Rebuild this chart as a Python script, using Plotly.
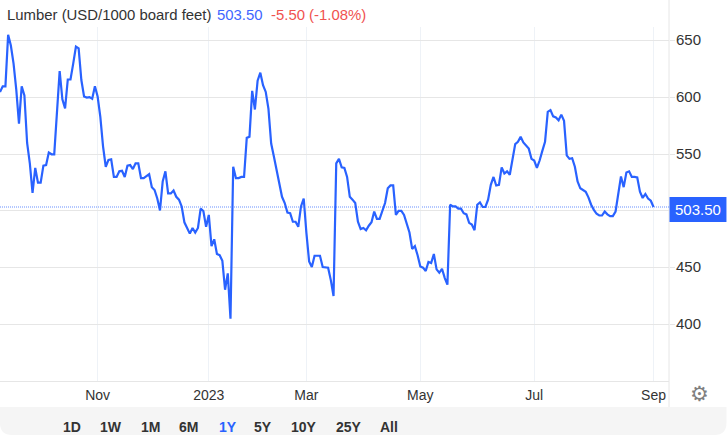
import plotly.graph_objects as go

values = [
    605, 610, 610, 655.5, 646, 630, 607, 577, 610, 602,
    560, 542, 516, 538, 525, 525, 540, 540.5, 551.5, 550,
    550, 592, 623.5, 598.5, 590.5, 616, 616, 630, 645, 643.5,
    615.5, 601, 600, 600.5, 599, 610, 601, 583, 557, 539,
    545, 545.5, 530, 530, 535, 535.5, 530, 540, 540.5, 537,
    542, 542, 529, 529, 530.5, 532.5, 521, 518.5, 511, 500.5,
    526, 535, 515.5, 515.5, 518, 512.5, 510, 504,
    490, 485, 480, 485, 481, 485, 502, 500, 486, 496.5,
    469, 475, 462, 461, 456, 430.5, 445, 405, 539, 529,
    529, 530, 530, 564.5, 565.5, 606, 589.5, 615, 622, 611,
    605, 590, 559.5, 548, 536, 521.5, 512.5, 507, 498.5, 498,
    490.5, 490.5, 486, 504, 511, 480.5, 455.5, 450.5, 460.5, 460.5,
    460.5, 450.5, 450.5, 450, 439, 425, 542, 546, 538.5, 538,
    530, 512.5, 510, 507, 490.5, 484, 485, 483, 487, 490,
    499.5, 493, 493, 499.5, 507, 520, 522.5, 522.5, 496.5, 500,
    500, 496.5, 489, 481, 466.5, 469, 461, 451,
    450, 447, 455, 454, 462, 448.5, 445.5, 449, 441, 435,
    505.5, 504, 504, 502, 502, 498, 497, 489.5, 488, 483,
    505.5, 507.5, 503.5, 503.5, 510, 523, 530, 522.5, 523, 538.5,
    533, 535, 532, 545, 559, 561, 565.5, 560.5, 558, 555,
    546, 544.5, 538, 544.5, 553, 561, 587.5, 589, 583.5, 582.5,
    580, 585, 579.5, 549, 546, 546.5, 539, 526, 520, 518.5,
    517, 512, 505.5, 501, 497.5, 496, 496, 499.5, 497, 495.5,
    495.5, 499.5, 516, 530.5, 521, 534, 535, 530, 530, 529.5,
    517, 511.5, 515, 511, 509, 503.5,
]
sessions = list(range(len(values)))
month_sessions = [36, 77, 113, 155, 197, 241]
month_labels = ["Nov", "2023", "Mar", "May", "Jul", "Sep"]
price_ticks = [400, 450, 500, 550, 600, 650]
price_labels = ["400", "450", "", "550", "600", "650"]
last_price = 503.50
range_buttons = ["1D", "1W", "1M", "6M", "1Y", "5Y", "10Y", "25Y", "All"]
button_centres = [72, 111, 151, 189, 228, 263, 304, 349, 389]

W, H = 727, 435
L, R, T, B = 0, 669.5, 27, 381
BLUE = "#2962ff"
FONT = "Liberation Sans"
DARK = "#333333"
GRID = "#e6e6e6"


def px(x):
    return (x - L) / (R - L)


def py(y):
    return (B - y) / (B - T)


def label(x, y, text, color=DARK, size=14, anchor="left", family=FONT):
    return dict(x=px(x), y=py(y), xref="paper", yref="paper", text=text, showarrow=False,
                xanchor=anchor, yanchor="middle", align=anchor,
                font=dict(family=family, size=size, color=color))


annotations = [
    label(5, 15, "Lumber (USD/1000 board feet)", DARK, 14.9),
    label(215, 15, "503.50", "#3f66ff", 14.9),
    label(269, 15, "-5.50 (-1.08%)", "#f0524f", 14.9),
    label(699, 209.5, f"{last_price:.2f}", "white", 15, "center"),
    label(700, 393.5, "\u2699", "#808080", 21, "center", "DejaVu Sans"),
]
for name, cx in zip(range_buttons, button_centres):
    annotations.append(label(cx, 427, f"<b>{name}</b>", BLUE if name == "1Y" else DARK, 14, "center"))

shapes = [
    # toolbar band with rounded lower corners
    dict(type="path", xref="paper", yref="paper", layer="below", line_width=0, fillcolor="#f5f5f5",
         path=(f"M {px(0)} {py(407)} L {px(W)} {py(407)} L {px(W)} {py(423)} "
               f"Q {px(W)} {py(435)} {px(W-12)} {py(435)} L {px(12)} {py(435)} "
               f"Q {px(0)} {py(435)} {px(0)} {py(423)} Z")),
    # vertical divider between the plot and the price scale
    dict(type="line", xref="paper", yref="paper", x0=1, x1=1, y0=py(407), y1=py(0),
         line=dict(color=GRID, width=1), layer="below"),
    # last price dotted line
    dict(type="line", xref="paper", yref="y", x0=0, x1=1, y0=last_price, y1=last_price,
         line=dict(color=BLUE, width=1, dash="1px,1px"), layer="below", opacity=0.7),
    # last price box
    dict(type="rect", xref="paper", yref="paper", x0=px(670), x1=px(W), y0=py(222), y1=py(197),
         fillcolor=BLUE, line_width=0, layer="above"),
]

fig = go.Figure(go.Scatter(x=sessions, y=values, mode="lines", line=dict(color=BLUE, width=2.2),
                           hoverinfo="skip", showlegend=False))
fig.update_layout(
    width=W, height=H, margin=dict(l=L, r=W - R, t=T, b=H - B),
    paper_bgcolor="white", plot_bgcolor="white",
    annotations=annotations, shapes=shapes,
    xaxis=dict(range=[0, (R - L) / (654 / (len(values) - 1))], tickvals=month_sessions, ticktext=month_labels,
               showgrid=True, gridcolor="#eef2f7", gridwidth=1, zeroline=False, ticks="",
               showline=True, linecolor=GRID, linewidth=1,
               tickfont=dict(family=FONT, size=14, color=DARK), ticklabelstandoff=1),
    yaxis=dict(side="right", range=[350, 662.3], tickvals=price_ticks, ticktext=price_labels,
               showgrid=True, gridcolor=GRID, gridwidth=1, zeroline=False,
               ticks="outside", ticklen=5, tickcolor=GRID, tickwidth=1,
               showline=False, tickfont=dict(family=FONT, size=15, color=DARK),
               ticklabelstandoff=-2, ticklabelshift=-1),
)
fig.write_html("out.html", config=dict(displayModeBar=False),
               post_script="document.body.style.margin='0';")
